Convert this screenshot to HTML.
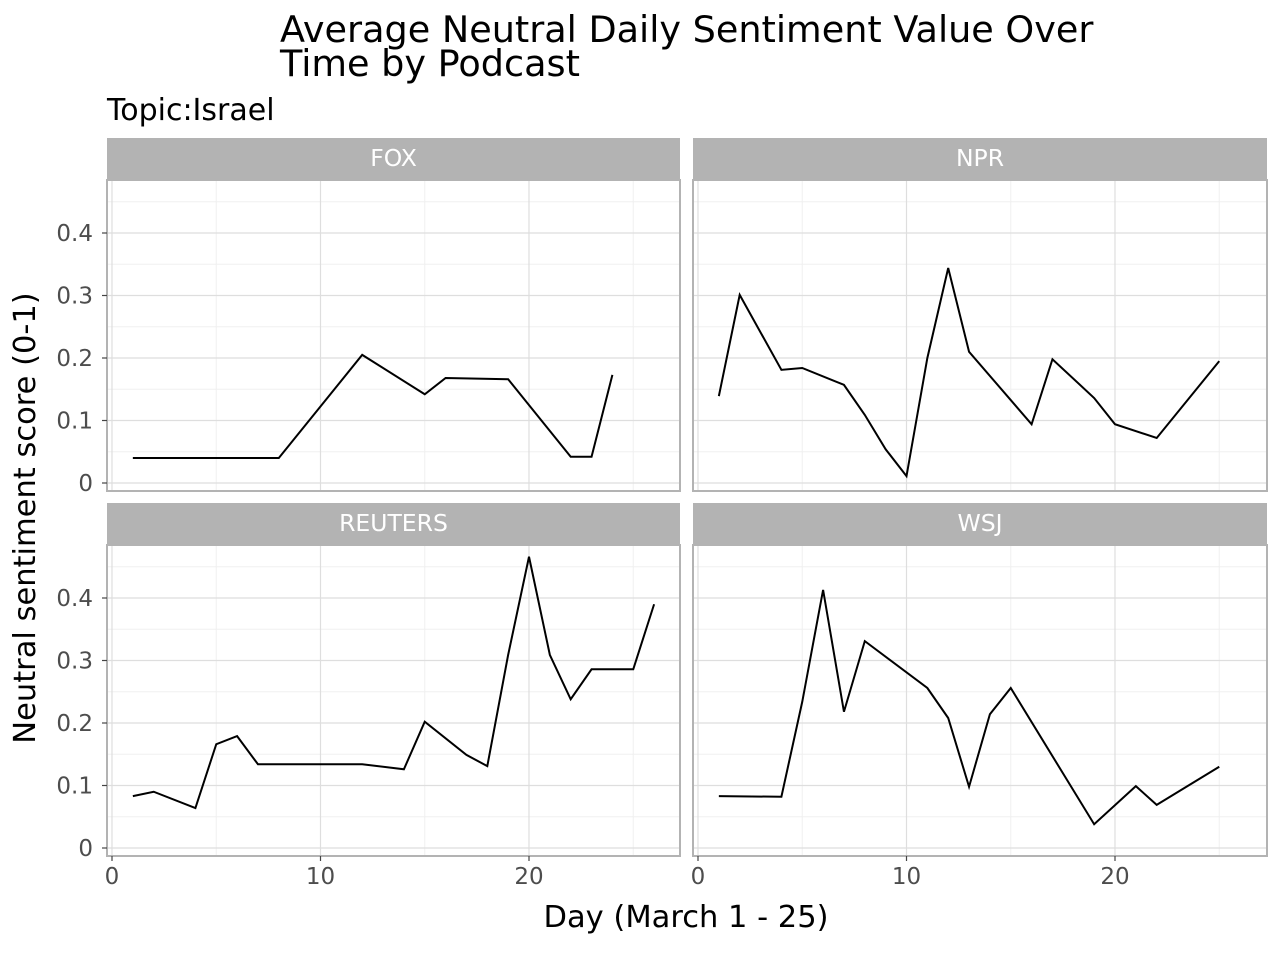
<!DOCTYPE html>
<html><head><meta charset="utf-8"><style>
body{margin:0;background:#fff;font-family:"DejaVu Sans","Liberation Sans",sans-serif}
svg text{font-family:"DejaVu Sans","Liberation Sans",sans-serif}
</style></head><body>
<svg id="c" width="1280" height="960" xmlns="http://www.w3.org/2000/svg">
<text x="280" y="42" font-size="36.6" fill="#000">Average Neutral Daily Sentiment Value Over</text>
<text x="280" y="76" font-size="36.6" fill="#000">Time by Podcast</text>
<text x="107" y="120" font-size="30" fill="#000">Topic:Israel</text>
<text x="686" y="927" font-size="30.5" text-anchor="middle">Day (March 1 - 25)</text>
<text transform="translate(35,518) rotate(-90)" font-size="30.5" text-anchor="middle">Neutral sentiment score (0-1)</text>
</svg>
<script>
const panelNames=["FOX","NPR","REUTERS","WSJ"];
const foxDays=[1,8,12,15,16,19,22,23,24];
const foxVals=[0.04,0.04,0.205,0.142,0.168,0.166,0.042,0.042,0.173];
const nprDays=[1,2,4,5,7,8,9,10,11,12,13,16,17,19,20,22,25];
const nprVals=[0.139,0.301,0.181,0.184,0.157,0.109,0.054,0.011,0.2,0.344,0.21,0.094,0.198,0.136,0.094,0.072,0.195];
const reutersDays=[1,2,4,5,6,7,12,14,15,17,18,19,20,21,22,23,25,26];
const reutersVals=[0.083,0.09,0.064,0.166,0.179,0.134,0.134,0.126,0.202,0.149,0.131,0.309,0.466,0.309,0.238,0.286,0.286,0.39];
const wsjDays=[1,4,5,6,7,8,11,12,13,14,15,19,21,22,25];
const wsjVals=[0.083,0.082,0.234,0.413,0.218,0.331,0.256,0.208,0.098,0.214,0.256,0.038,0.099,0.069,0.13];
const xTicks=[0,10,20];
const yTicks=[0,0.1,0.2,0.3,0.4];
const yTickLabels=["0","0.1","0.2","0.3","0.4"];
const series=[[foxDays,foxVals],[nprDays,nprVals],[reutersDays,reutersVals],[wsjDays,wsjVals]];
const svg=document.getElementById('c');const NS="http://www.w3.org/2000/svg";
function mk(t,a,p){const e=document.createElementNS(NS,t);for(const k in a)e.setAttribute(k,a[k]);(p||svg).appendChild(e);return e;}
const panels=[{x0:107,x1:680,y0:138},{x0:693,x1:1267,y0:138},{x0:107,x1:680,y0:503},{x0:693,x1:1267,y0:503}];
panels.forEach((p,i)=>{
  const top=p.y0+42,bot=p.y0+353;
  const xs=d=>p.x0+5+d*20.85;
  const ys=v=>bot-8-v*625;
  const g=mk('g',{});
  
  
  mk('rect',{x:p.x0,y:top,width:p.x1-p.x0,height:bot-top,fill:'#fff'},g);
  for(let v=0.05;v<0.5;v+=0.1)mk('line',{x1:p.x0,x2:p.x1,y1:ys(v),y2:ys(v),stroke:'#f0f0f0','stroke-width':1},g);
  [5,15,25].forEach(d=>mk('line',{x1:xs(d),x2:xs(d),y1:top,y2:bot,stroke:'#f0f0f0','stroke-width':1},g));
  yTicks.forEach(v=>mk('line',{x1:p.x0,x2:p.x1,y1:ys(v),y2:ys(v),stroke:'#dedede','stroke-width':1.2},g));
  xTicks.forEach(d=>mk('line',{x1:xs(d),x2:xs(d),y1:top,y2:bot,stroke:'#dedede','stroke-width':1.2},g));
  mk('rect',{x:p.x0,y:top,width:p.x1-p.x0,height:bot-top,fill:'none',stroke:'#b3b3b3','stroke-width':2},g);
  const s=mk('rect',{x:p.x0,y:p.y0,width:p.x1-p.x0,height:42,fill:'#b3b3b3'},g);
  
  
  const st=mk('text',{x:(p.x0+p.x1)/2,y:p.y0+28,'font-size':23.5,fill:'#fff','text-anchor':'middle'},g);st.textContent=panelNames[i];
  if(i%2==0){yTicks.forEach((v,j)=>{mk('line',{x1:p.x0-5,x2:p.x0,y1:ys(v),y2:ys(v),stroke:'#444','stroke-width':1.2},g);
    const t=mk('text',{x:p.x0-14,y:ys(v)+8,'font-size':23,fill:'#4d4d4d','text-anchor':'end'},g);t.textContent=yTickLabels[j];});}
  if(i>=2){xTicks.forEach(d=>{mk('line',{x1:xs(d),x2:xs(d),y1:bot,y2:bot+5,stroke:'#444','stroke-width':1.2},g);
    const t=mk('text',{x:xs(d),y:bot+28,'font-size':23,fill:'#4d4d4d','text-anchor':'middle'},g);t.textContent=d;});}
  const [D,V]=series[i];
  const l=mk('polyline',{points:D.map((d,k)=>xs(d)+','+ys(V[k])).join(' '),fill:'none',stroke:'#000','stroke-width':2},g);
  
  
});
</script>
</body></html>
